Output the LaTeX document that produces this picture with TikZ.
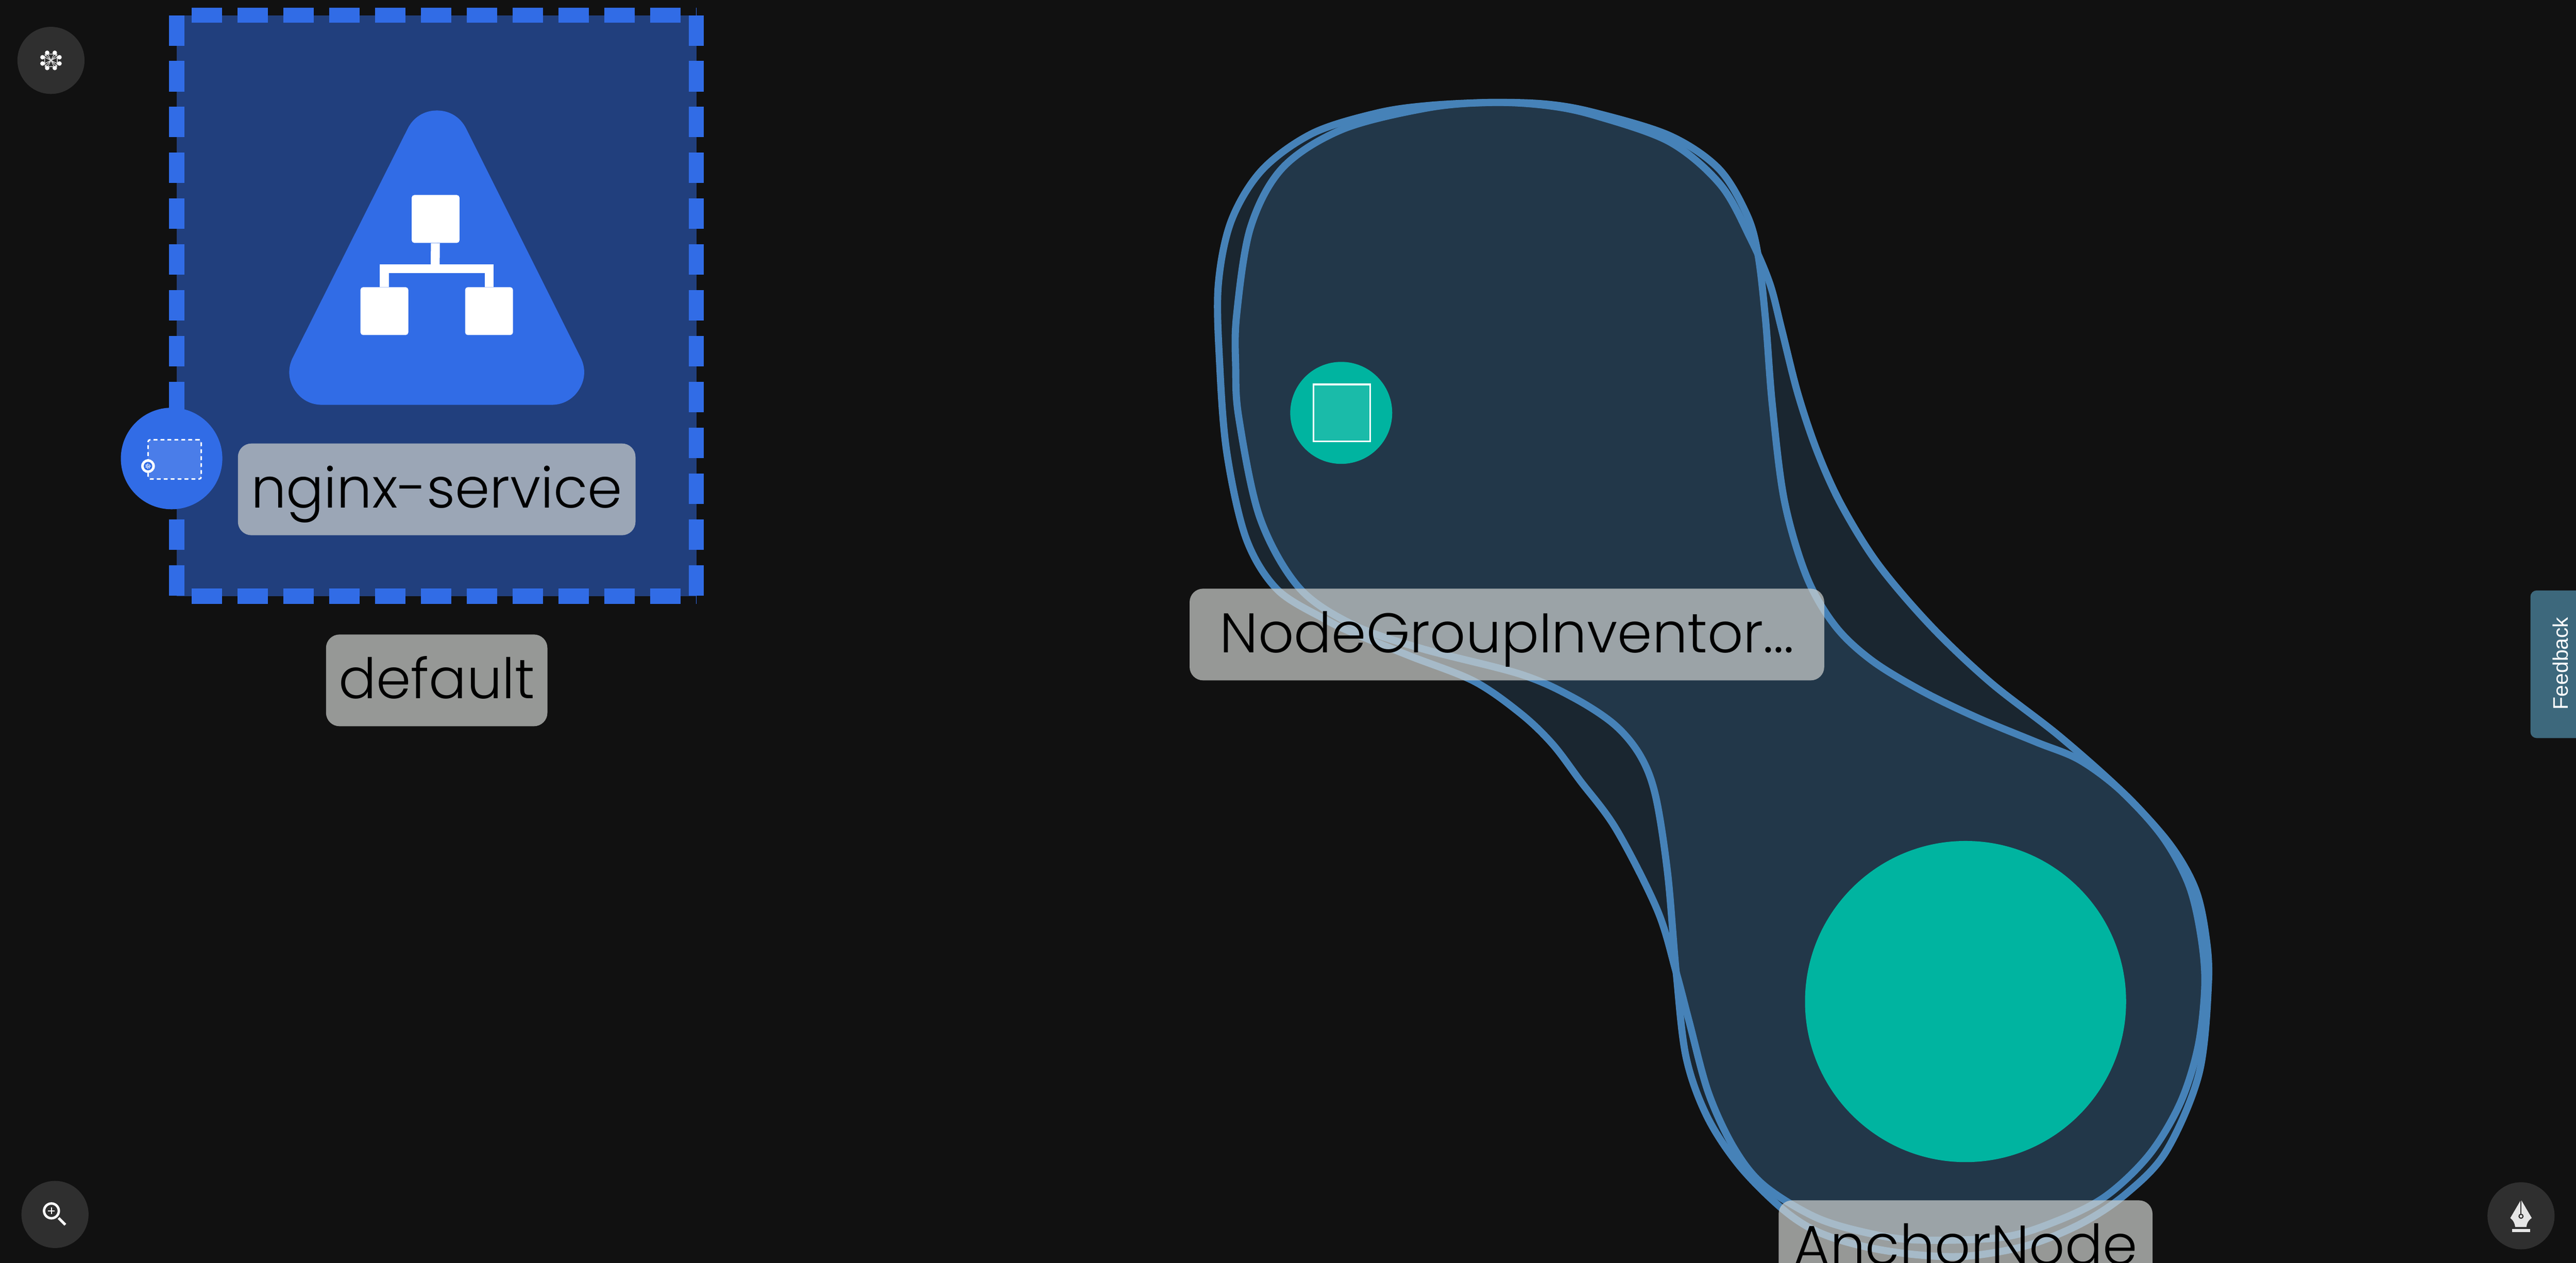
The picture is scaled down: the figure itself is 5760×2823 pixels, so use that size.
\documentclass[tikz,border=0pt]{standalone}
\usepackage{fontspec}
\usepackage{tikz}
\usetikzlibrary{positioning,calc}
\newfontfamily\labelfont{Poppins Light}
\newfontfamily\uifont{Liberation Sans}
\definecolor{bgcol}{HTML}{111111}
\definecolor{nsfill}{HTML}{213F7D}
\definecolor{k8sblue}{HTML}{316CE6}
\definecolor{teal}{HTML}{00B4A0}
\definecolor{hullcol}{HTML}{4682B8}
\definecolor{badgecol}{HTML}{CFD2CF}
\definecolor{btncol}{HTML}{2F2F2F}
\definecolor{nibcol}{HTML}{E6E6E6}
\definecolor{tabcol}{HTML}{3D687C}
\tikzset{
    badge/.style = {
        shape=rectangle,
        fill=badgecol,
        fill opacity=0.7,
        text opacity=1,
        text=black,
        rounded corners=3mm,
        minimum height=20.5mm,
        inner sep=0pt,
        text height=12mm,
        text depth=3.8mm,
        font=\labelfont\fontsize{35.5}{38}\selectfont
    },
    dot/.style = {
        shape=circle,
        inner sep=0pt
    },
    toolbtn/.style = {
        dot,
        fill=btncol,
        minimum size=15mm
    },
    square/.style = {
        shape=rectangle,
        fill=white,
        inner sep=0pt,
        rounded corners=0.6mm,
        minimum size=10.7mm
    },
    nsdash/.style = {
        draw=k8sblue,
        line width=3.4mm,
        dash pattern=on 6.8mm off 3.45mm
    },
    hull/.style = {
        draw=hullcol,
        fill=hullcol,
        fill opacity=0.19,
        line width=1.6mm,
        line join=round
    },
}
\begin{document}
\begin{tikzpicture}[x=0.1mm,y=-0.1mm]
    \useasboundingbox (0,0) rectangle (5760,2823);
    \fill[bgcol] (0,0) rectangle (5760,2823);

    \path[hull] plot[smooth cycle,tension=0.55] coordinates {
        (3337,229) (3460,233) (3566,252) (3733,303) (3843,377) (3906,480) (3931,570) (3948,717)
        (3963,906) (3990,1120) (4040,1290) (4104,1400) (4186,1477) (4298,1545)
        (4420,1604) (4553,1659) (4650,1699) (4745,1770) (4835,1870) (4893,1975)
        (4920,2085) (4930,2199) (4915,2339) (4875,2466) (4806,2581) (4710,2673)
        (4603,2728) (4477,2766) (4285,2772) (4170,2755) (4057,2720) (3943,2649)
        (3877,2566) (3820,2443) (3777,2284) (3748,2174) (3706,2035) (3614,1854)
        (3533,1745) (3471,1663) (3400,1595) (3296,1523) (3154,1467) (3026,1415) (2960,1383)
        (2855,1317) (2786,1203) (2743,1011) (2727,810) (2724,638) (2753,494)
        (2822,380) (2935,298) (3078,253) (3193,236)};
    \path[hull] plot[smooth cycle,tension=0.55] coordinates {
        (3337,229) (3460,236) (3566,258) (3733,317) (3847,413) (3914,533) (3957,633) (3983,733)
        (4020,880) (4064,1011) (4118,1130) (4200,1262) (4318,1400) (4450,1525)
        (4604,1645) (4747,1772) (4850,1885) (4908,1985) (4932,2090) (4938,2199) (4917,2400)
        (4844,2573) (4756,2667) (4656,2734) (4534,2784) (4400,2808) (4285,2805)
        (4170,2787) (4067,2755) (3987,2704) (3890,2607) (3817,2496) (3770,2363)
        (3748,2174) (3729,1954) (3702,1780) (3668,1690) (3610,1620) (3517,1559)
        (3399,1507) (3179,1450) (3026,1397) (2904,1313) (2817,1157) (2770,934)
        (2763,820) (2765,705) (2796,509) (2868,375) (3002,289) (3193,241)};

    \node[dot,fill=teal,minimum size=22.8mm] (nodegroupicon) at (2999,923) {};
    \node[draw=white,line width=0.4mm,fill=white,fill opacity=0.1,minimum size=12.7mm,inner sep=0pt] (nodegroupbox) at (3000.5,923) {};
    \node[dot,fill=teal,minimum size=71.8mm] (anchoricon) at (4395,2239) {};
    \node[badge,minimum width=141.9mm] (nodegrouplabel) at (3369.5,1418.5) {NodeGroupInventor...};
    \node[badge,minimum width=83.6mm] (anchorlabel) at (4395,2786) {AnchorNode};

    \fill[nsfill] (395,34) rectangle (1557,1333);
    \draw[nsdash] (395,34) -- (395,1333);
    \draw[nsdash] (1557,34) -- (1557,1333);
    \draw[nsdash] (429,34) -- (1557,34);
    \draw[nsdash] (429,1333) -- (1557,1333);

    \draw[k8sblue,fill=k8sblue,line width=14.6mm,line join=round] (977,320) -- (720,832) -- (1233,832) -- cycle;
    \node[square] (svctop) at (974,489.5) {};
    \node[square] (svcleft) at (859.5,695.5) {};
    \node[square] (svcright) at (1093.5,695.5) {};
    \coordinate (svcbar) at (973,600.5);
    \draw[white,line width=2mm] (svctop) -- (svcbar);
    \draw[white,line width=2mm] (svcleft) |- (svcbar) -| (svcright);

    \node[badge,minimum width=88.9mm] (servicelabel) at (976.5,1094) {nginx-service};
    \node[badge,minimum width=49.5mm] (nslabel) at (976.5,1521) {default};

    \node[dot,fill=k8sblue,minimum size=22.7mm] (porticon) at (383.7,1025) {};
    \node[draw=white,fill=white,fill opacity=0.12,line width=0.35mm,dash pattern=on 0.85mm off 0.7mm,rounded corners=0.5mm,minimum width=11.9mm,minimum height=8.8mm,inner sep=0pt] (portbox) at (390.5,1027) {};
    \node[dot,fill=white,minimum size=3.06mm] (portbadge) at (331,1042) {};
    \node[dot,fill=k8sblue,minimum size=1.9mm] (portwheel) at (331,1042) {};
    \draw[white,line width=0.08mm] (portwheel) circle (4.5);
    \foreach \a in {0,51.4,...,308} {
        \draw[white,line width=0.07mm] (portwheel.center) -- ++(\a:6.5);
    }

    \node[toolbtn] (graphbtn) at (114,135) {};
    \foreach \xs/\ys in {8.5/17,-8.5/17,8.5/-17,-8.5/-17,19/7,-19/7,19/-7,-19/-7} {
        \fill[white] ($(graphbtn)+(\xs,\ys)$) circle (5);
    }
    \draw[white!90!black,line width=0.15mm,rounded corners=0.6mm] (100,121) rectangle (128,149);
    \foreach \xa/\ya/\xb/\yb in {100/121/128/149,100/149/128/121,107/121/121/149,121/121/107/149,100/128/128/142,100/142/128/128} {
        \draw[white!90!black,line width=0.14mm] (\xa,\ya) -- (\xb,\yb);
    }

    \node[toolbtn] (zoombtn) at (123,2715) {};
    \draw[white,line width=0.55mm] (115,2707) circle (16.5);
    \draw[white,line width=0.3mm] (107.5,2707) -- (122.5,2707);
    \draw[white,line width=0.3mm] (115,2699.5) -- (115,2714.5);
    \draw[white,line width=0.6mm] (131,2723) -- (146,2738);

    \node[toolbtn] (penbtn) at (5637,2718) {};
    \fill[nibcol] (5637,2682) -- (5661,2723) .. controls (5653,2728) and (5650,2735) .. (5649,2743) -- (5624,2743) .. controls (5623,2735) and (5620,2728) .. (5613,2723) -- cycle;
    \draw[btncol,line width=0.25mm] (5637,2680) -- (5637,2714);
    \draw[btncol,fill=nibcol,line width=0.25mm] (5637,2719) circle (4.5);
    \fill[nibcol] (5617,2748) rectangle (5657,2754);

    \fill[tabcol,rounded corners=1.4mm] (5658,1320) rectangle (5790,1650);
    \node[rotate=90,text=white,inner sep=0pt,font=\uifont\fontsize{13.4}{15}\selectfont] (feedbacktab) at (5725,1483) {Feedback};
\end{tikzpicture}
\end{document}
